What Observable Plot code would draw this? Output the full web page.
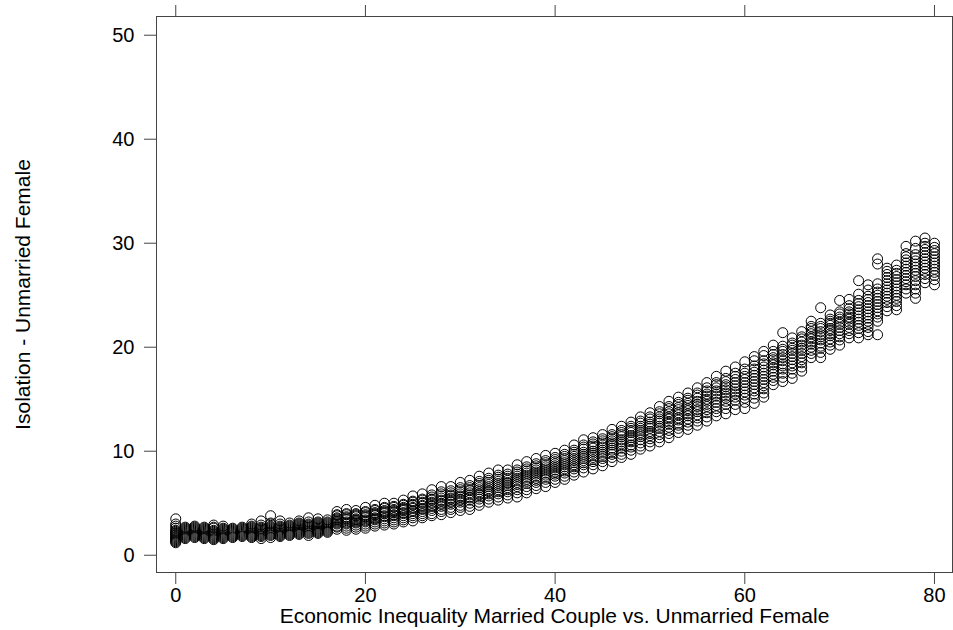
<!DOCTYPE html>
<html>
<head>
<meta charset="utf-8">
<script src="https://cdn.jsdelivr.net/npm/d3@7"></script>
<script src="https://cdn.jsdelivr.net/npm/@observablehq/plot@0.6"></script>
<style>
  html, body { margin: 0; padding: 0; background: #fff; }
  #chart svg { display: block; }
</style>
</head>
<body>
<div id="chart"></div>
<script>
const xLabel = "Economic Inequality Married Couple vs. Unmarried Female";
const yLabel = "Isolation - Unmarried Female";
const xTicks = [0, 20, 40, 60, 80];
const yTicks = [0, 10, 20, 30, 40, 50];

const inequality = [0,1,2,3,4,5,6,7,8,9,10,11,12,13,14,15,16,17,18,19,20,21,22,23,24,25,26,27,28,29,30,31,32,33,34,35,36,37,38,39,40,41,42,43,44,45,46,47,48,49,50,51,52,53,54,55,56,57,58,59,60,61,62,63,64,65,66,67,68,69,70,71,72,73,74,75,76,77,78,79,80];

const isolation = [
  [1.2,1.3,1.4,1.5,1.6,1.7,1.8,1.9,2.0,2.1,2.2,2.3,2.4,2.6,2.8,3.0,3.5],
  [1.6,1.7,1.8,1.9,2.0,2.1,2.2,2.3,2.4,2.5,2.6,2.7],
  [1.7,1.8,1.9,2.0,2.1,2.2,2.3,2.4,2.5,2.6,2.7,2.8],
  [1.6,1.7,1.8,1.9,2.0,2.1,2.2,2.3,2.4,2.5,2.6,2.7],
  [1.5,1.6,1.7,1.8,1.9,2.0,2.1,2.2,2.3,2.4,2.6,2.7,2.9],
  [1.6,1.7,1.8,1.9,2.0,2.1,2.2,2.3,2.4,2.5,2.6,2.8],
  [1.7,1.8,1.9,2.0,2.1,2.2,2.3,2.4,2.5,2.6],
  [1.8,1.9,2.0,2.1,2.2,2.3,2.4,2.5,2.6,2.7],
  [1.7,1.8,1.9,2.0,2.1,2.2,2.3,2.4,2.5,2.6,2.7,2.8,3.0],
  [1.6,1.8,1.9,2.0,2.1,2.2,2.3,2.4,2.5,2.6,2.7,2.9,3.3],
  [1.7,1.9,2.0,2.1,2.2,2.3,2.4,2.5,2.6,2.7,2.8,3.0,3.1,3.8],
  [1.8,1.9,2.0,2.1,2.2,2.3,2.4,2.5,2.6,2.7,2.8,3.0,3.3],
  [1.9,2.0,2.1,2.2,2.3,2.4,2.5,2.6,2.7,2.8,2.9,3.1],
  [2.0,2.1,2.2,2.3,2.4,2.5,2.6,2.7,2.8,2.9,3.0,3.1,3.3],
  [1.9,2.1,2.2,2.3,2.4,2.5,2.6,2.7,2.8,2.9,3.0,3.2,3.6],
  [2.1,2.2,2.3,2.4,2.5,2.6,2.7,2.8,2.9,3.0,3.1,3.2,3.5],
  [2.2,2.3,2.4,2.5,2.6,2.7,2.8,2.9,3.0,3.1,3.2,3.4],
  [2.5,2.7,2.8,3.0,3.1,3.2,3.3,3.4,3.5,3.6,3.8,3.9,4.2],
  [2.4,2.6,2.8,3.0,3.1,3.2,3.4,3.5,3.6,3.7,3.9,4.0,4.4],
  [2.5,2.7,2.9,3.1,3.2,3.3,3.4,3.5,3.7,3.8,3.9,4.0,4.3],
  [2.6,2.8,3.0,3.2,3.3,3.4,3.6,3.7,3.8,3.9,4.1,4.2,4.6],
  [2.8,3.0,3.2,3.4,3.5,3.6,3.8,3.9,4.0,4.1,4.3,4.4,4.8],
  [2.9,3.1,3.3,3.5,3.7,3.8,4.0,4.1,4.2,4.3,4.5,4.6,5.0],
  [3.0,3.2,3.4,3.6,3.8,3.9,4.1,4.2,4.3,4.4,4.6,4.7,5.0],
  [3.2,3.4,3.6,3.8,4.0,4.1,4.3,4.4,4.5,4.6,4.8,4.9,5.3],
  [3.3,3.6,3.8,4.0,4.2,4.3,4.5,4.6,4.8,4.9,5.1,5.2,5.7],
  [3.6,3.8,4.0,4.2,4.4,4.5,4.7,4.8,5.0,5.1,5.3,5.4,5.9],
  [3.8,4.0,4.3,4.5,4.7,4.8,5.0,5.1,5.3,5.4,5.6,5.8,6.3],
  [3.9,4.2,4.4,4.7,4.9,5.0,5.2,5.3,5.5,5.7,5.9,6.1,6.6],
  [4.1,4.4,4.6,4.9,5.1,5.2,5.4,5.5,5.7,5.8,6.0,6.2,6.6],
  [4.3,4.6,4.8,5.1,5.3,5.4,5.6,5.7,5.9,6.1,6.3,6.5,7.0],
  [4.4,4.7,5.0,5.3,5.5,5.6,5.8,6.0,6.2,6.3,6.5,6.7,7.2],
  [4.8,5.1,5.4,5.6,5.8,5.9,6.1,6.3,6.5,6.7,6.9,7.1,7.6],
  [5.1,5.4,5.7,5.9,6.1,6.2,6.4,6.6,6.8,7.0,7.2,7.4,7.9],
  [5.3,5.6,5.9,6.1,6.3,6.5,6.7,6.9,7.1,7.3,7.5,7.7,8.2],
  [5.5,5.8,6.1,6.3,6.5,6.7,6.9,7.0,7.2,7.4,7.6,7.8,8.2],
  [5.6,6.0,6.3,6.6,6.8,7.0,7.2,7.4,7.6,7.8,8.0,8.2,8.7],
  [6.0,6.3,6.6,6.9,7.1,7.3,7.5,7.7,7.9,8.1,8.3,8.5,9.0],
  [6.4,6.7,7.0,7.2,7.4,7.6,7.8,8.0,8.2,8.4,8.6,8.8,9.3],
  [6.6,7.0,7.3,7.5,7.7,7.9,8.1,8.3,8.5,8.7,8.9,9.1,9.6],
  [7.0,7.3,7.6,7.8,8.0,8.2,8.4,8.6,8.8,9.0,9.2,9.4,9.8],
  [7.3,7.6,7.9,8.1,8.3,8.5,8.7,8.9,9.1,9.3,9.5,9.7,10.1],
  [7.7,8.0,8.3,8.5,8.7,8.9,9.1,9.3,9.5,9.7,9.9,10.1,10.6],
  [8.0,8.4,8.7,8.9,9.1,9.3,9.5,9.7,9.9,10.2,10.4,10.6,11.1],
  [8.3,8.7,9.0,9.2,9.4,9.6,9.8,10.0,10.3,10.5,10.7,10.9,11.3],
  [8.6,9.0,9.3,9.5,9.7,9.9,10.1,10.4,10.6,10.8,11.0,11.2,11.6],
  [9.0,9.4,9.7,9.9,10.1,10.3,10.6,10.8,11.0,11.2,11.4,11.6,12.1],
  [9.4,9.7,10.0,10.3,10.5,10.7,10.9,11.1,11.4,11.6,11.8,12.0,12.4],
  [9.7,10.1,10.4,10.6,10.9,11.1,11.3,11.5,11.8,12.0,12.2,12.4,12.8],
  [10.2,10.5,10.8,11.1,11.4,11.6,11.8,12.0,12.2,12.4,12.7,12.9,13.3],
  [10.5,10.9,11.2,11.5,11.7,11.9,12.2,12.4,12.6,12.8,13.1,13.3,13.7],
  [10.9,11.3,11.6,11.9,12.2,12.4,12.7,12.9,13.1,13.3,13.6,13.8,14.3],
  [11.3,11.7,12.0,12.3,12.6,12.8,13.1,13.3,13.6,13.8,14.1,14.3,14.8],
  [11.8,12.2,12.5,12.7,13.0,13.2,13.5,13.7,14.0,14.2,14.5,14.7,15.2],
  [12.1,12.5,12.8,13.1,13.4,13.6,13.9,14.1,14.4,14.6,14.9,15.1,15.6],
  [12.5,12.9,13.2,13.5,13.8,14.0,14.3,14.5,14.8,15.1,15.4,15.6,16.1],
  [12.9,13.3,13.7,14.0,14.3,14.5,14.8,15.0,15.3,15.5,15.8,16.1,16.6],
  [13.4,13.8,14.1,14.4,14.7,15.0,15.3,15.5,15.8,16.1,16.4,16.6,17.2],
  [13.6,14.1,14.5,14.8,15.1,15.3,15.6,15.9,16.2,16.4,16.7,17.0,17.7],
  [14.0,14.5,14.9,15.2,15.5,15.7,16.0,16.3,16.6,16.9,17.2,17.5,18.1],
  [14.1,14.7,15.1,15.4,15.7,16.0,16.3,16.6,16.9,17.2,17.5,17.9,18.6],
  [14.6,15.1,15.5,15.8,16.1,16.4,16.7,17.0,17.3,17.6,17.9,18.2,18.7,19.1],
  [15.2,15.6,16.0,16.3,16.6,16.9,17.2,17.5,17.8,18.1,18.4,18.7,19.2,19.6],
  [16.4,16.8,17.1,17.4,17.7,18.0,18.3,18.5,18.8,19.0,19.3,19.6,20.2],
  [16.7,17.1,17.5,17.9,18.2,18.4,18.7,19.0,19.3,19.6,19.8,20.1,21.4],
  [17.0,17.5,17.9,18.2,18.5,18.8,19.1,19.4,19.7,19.9,20.2,20.4,20.9],
  [17.7,18.1,18.5,18.8,19.1,19.4,19.7,19.9,20.2,20.5,20.8,21.0,21.5],
  [19.0,19.4,19.7,20.0,20.3,20.5,20.8,21.0,21.3,21.5,21.8,22.0,22.5],
  [19.0,19.5,19.9,20.1,20.4,20.7,21.0,21.2,21.5,21.8,22.0,22.3,23.8],
  [19.8,20.2,20.5,20.8,21.1,21.3,21.6,21.8,22.1,22.3,22.5,22.7,23.1],
  [20.2,20.7,21.0,21.3,21.6,21.9,22.2,22.4,22.7,22.9,23.2,23.4,24.5],
  [20.9,21.3,21.6,21.9,22.2,22.4,22.7,22.9,23.2,23.4,23.7,24.0,24.6],
  [20.9,21.4,21.8,22.1,22.4,22.7,23.0,23.3,23.6,23.9,24.2,24.5,25.1,26.4],
  [21.2,21.5,21.9,22.2,22.5,22.8,23.1,23.4,23.7,24.0,24.3,24.6,24.9,25.5,26.0],
  [21.2,22.5,22.9,23.2,23.5,23.8,24.1,24.4,24.7,25.0,25.3,25.6,26.1,28.0,28.5],
  [23.5,23.9,24.3,24.6,24.9,25.2,25.5,25.8,26.1,26.4,26.7,27.0,27.3,27.6],
  [23.6,24.0,24.4,24.7,25.0,25.3,25.6,25.9,26.2,26.5,26.8,27.1,27.4,27.9],
  [25.2,25.6,26.0,26.3,26.6,26.9,27.2,27.5,27.8,28.1,28.4,28.7,29.0,29.7],
  [24.7,25.2,25.6,26.0,26.4,26.8,27.1,27.4,27.7,28.0,28.3,28.6,28.9,29.5,30.2],
  [26.2,26.6,27.0,27.3,27.6,27.9,28.2,28.5,28.8,29.1,29.4,29.7,30.0,30.5],
  [26.0,26.5,26.9,27.2,27.5,27.8,28.1,28.4,28.7,29.0,29.3,29.6,30.0]
];

const points = inequality.flatMap((x, i) => isolation[i].map(y => ({x, y})));

const FONT = "'Liberation Sans', Arial, Helvetica, sans-serif";
const AXIS_COLOR = "#444";

const chart = Plot.plot({
  width: 953,
  height: 630,
  marginLeft: 156,
  marginRight: 1,
  marginTop: 16,
  marginBottom: 58,
  style: { fontFamily: FONT, background: "#fff", color: "#000" },
  x: { domain: [-2.03, 81.9] },
  y: { domain: [-1.66, 51.8] },
  marks: [
    Plot.dot(points, { x: "x", y: "y", r: 5, stroke: "#000", strokeWidth: 1, fill: "none" }),
    Plot.frame({ stroke: AXIS_COLOR, strokeWidth: 1 }),
    Plot.axisY({ ticks: yTicks, tickSize: 12, tickPadding: 10, fontSize: 20, label: null, stroke: AXIS_COLOR, fill: "#000" }),
    Plot.axisX({ anchor: "bottom", ticks: xTicks, tickSize: 12, tickPadding: 3, fontSize: 20, label: null, stroke: AXIS_COLOR, fill: "#000" }),
    Plot.axisX({ anchor: "top", ticks: xTicks, tickSize: 12, tickFormat: () => "", label: null, stroke: AXIS_COLOR }),
    Plot.text([xLabel], { text: d => d, frameAnchor: "bottom", dy: 44, fontSize: 21, lineAnchor: "middle", textAnchor: "middle", fill: "#000" }),
    Plot.text([yLabel], { text: d => d, frameAnchor: "left", dx: -133, rotate: -90, fontSize: 21, lineAnchor: "middle", textAnchor: "middle", fill: "#000" })
  ]
});

document.getElementById("chart").appendChild(chart);
</script>
</body>
</html>
